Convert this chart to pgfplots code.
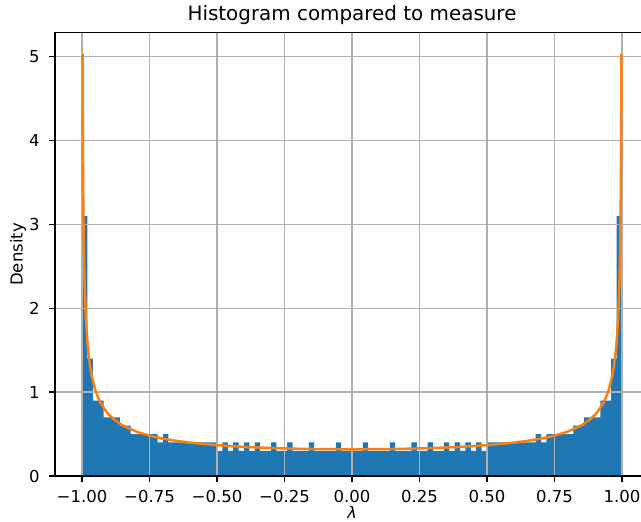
\documentclass[border=0pt]{standalone}
\usepackage{fontspec}
\setmainfont{DejaVu Sans}
\usepackage{pgfplots}
\pgfplotsset{compat=1.18}

\definecolor{histblue}{HTML}{1F77B4}
\definecolor{curveorange}{HTML}{FF7F0E}
\definecolor{gridgray}{HTML}{B0B0B0}

\begin{document}
\begin{tikzpicture}
\begin{axis}[
  set layers,
  scale only axis,
  width=594pt, height=443.3pt,
  xmin=-1.1, xmax=1.1, ymin=0, ymax=5.287,
  xtick={-1,-0.75,-0.5,-0.25,0,0.25,0.5,0.75,1},
  xticklabels={−1.00,−0.75,−0.50,−0.25,0.00,0.25,0.50,0.75,1.00},
  ytick={0,1,2,3,4,5},
  yticklabels={0,1,2,3,4,5},
  tick align=outside, xtick pos=lower, ytick pos=left,
  major tick length=5.8pt,
  tick style={black, line width=1.32pt},
  grid=major,
  major grid style={gridgray, line width=1.32pt},
  axis line style={line width=1.32pt},
  tick label style={font=\fontsize{16.5}{19}\selectfont, inner sep=0pt},
  xticklabel style={anchor=north, yshift=-8pt},
  yticklabel style={anchor=east, xshift=-9.5pt},
  title={Histogram compared to measure},
  title style={font=\fontsize{19.9}{23}\selectfont, at={(axis description cs:0.5,1)},
    anchor=base, yshift=6pt, inner sep=0pt},
  xlabel={\textit{λ}},
  xlabel style={font=\fontsize{16}{18}\selectfont, at={(axis description cs:0.5,0)},
    anchor=north, yshift=-30pt, inner sep=0pt},
  ylabel={Density},
  ylabel style={font=\fontsize{16.5}{19}\selectfont, at={(axis description cs:-0.0483,0.5)},
    anchor=south, inner sep=0pt},
]
\coordinate (frameSW) at (rel axis cs:0,0);
\coordinate (frameNE) at (rel axis cs:1,1);

% histogram of the eigenvalues, 100 bins of width 0.02 (left edge, density)
\addplot[on layer=axis background, fill=histblue, draw=none, const plot mark left]
table {
x y
-1.00 3.1
-0.98 1.4
-0.96 0.9
-0.94 0.9
-0.92 0.7
-0.90 0.7
-0.88 0.7
-0.86 0.6
-0.84 0.6
-0.82 0.5
-0.80 0.5
-0.78 0.5
-0.76 0.5
-0.74 0.5
-0.72 0.4
-0.70 0.5
-0.68 0.4
-0.66 0.4
-0.64 0.4
-0.62 0.4
-0.60 0.4
-0.58 0.4
-0.56 0.4
-0.54 0.4
-0.52 0.4
-0.50 0.3
-0.48 0.4
-0.46 0.3
-0.44 0.4
-0.42 0.3
-0.40 0.4
-0.38 0.3
-0.36 0.4
-0.34 0.3
-0.32 0.3
-0.30 0.4
-0.28 0.3
-0.26 0.3
-0.24 0.4
-0.22 0.3
-0.20 0.3
-0.18 0.3
-0.16 0.4
-0.14 0.3
-0.12 0.3
-0.10 0.3
-0.08 0.3
-0.06 0.4
-0.04 0.3
-0.02 0.3
0.00 0.3
0.02 0.3
0.04 0.4
0.06 0.3
0.08 0.3
0.10 0.3
0.12 0.3
0.14 0.4
0.16 0.3
0.18 0.3
0.20 0.3
0.22 0.4
0.24 0.3
0.26 0.3
0.28 0.4
0.30 0.3
0.32 0.3
0.34 0.4
0.36 0.3
0.38 0.4
0.40 0.3
0.42 0.4
0.44 0.3
0.46 0.4
0.48 0.3
0.50 0.4
0.52 0.4
0.54 0.4
0.56 0.4
0.58 0.4
0.60 0.4
0.62 0.4
0.64 0.4
0.66 0.4
0.68 0.5
0.70 0.4
0.72 0.5
0.74 0.5
0.76 0.5
0.78 0.5
0.80 0.5
0.82 0.6
0.84 0.6
0.86 0.7
0.88 0.7
0.90 0.7
0.92 0.9
0.94 0.9
0.96 1.4
0.98 3.1
1.00 3.1
} \closedcycle;

% arcsine measure density
\addplot[curveorange, line width=2.48pt, line join=round] coordinates {
(-0.998,5.0354) (-0.997,4.1124) (-0.996,3.5624) (-0.995,3.1871) (-0.994,2.9101)
(-0.992,2.5215) (-0.990,2.2564) (-0.985,1.8447) (-0.980,1.5996) (-0.975,1.4325)
(-0.970,1.3093) (-0.960,1.1368) (-0.950,1.0194) (-0.940,0.9330) (-0.930,0.8660)
(-0.910,0.7677) (-0.900,0.7302) (-0.880,0.6702) (-0.850,0.6042) (-0.800,0.5305)
(-0.750,0.4812) (-0.700,0.4457) (-0.650,0.4189) (-0.600,0.3979) (-0.500,0.3676)
(-0.400,0.3473) (-0.300,0.3337) (-0.200,0.3249) (-0.100,0.3199) (0,0.3183)
(0.100,0.3199) (0.200,0.3249) (0.300,0.3337) (0.400,0.3473) (0.500,0.3676)
(0.600,0.3979) (0.650,0.4189) (0.700,0.4457) (0.750,0.4812) (0.800,0.5305)
(0.850,0.6042) (0.880,0.6702) (0.900,0.7302) (0.910,0.7677) (0.930,0.8660)
(0.940,0.9330) (0.950,1.0194) (0.960,1.1368) (0.970,1.3093) (0.975,1.4325)
(0.980,1.5996) (0.985,1.8447) (0.990,2.2564) (0.992,2.5215) (0.994,2.9101)
(0.995,3.1871) (0.996,3.5624) (0.997,4.1124) (0.998,5.0354)
};
\end{axis}
\pgfresetboundingbox
\path[use as bounding box] ([shift={(-55pt,-45pt)}]frameSW) rectangle ([shift={(-8pt,32.7pt)}]frameNE);
\end{tikzpicture}
\end{document}
